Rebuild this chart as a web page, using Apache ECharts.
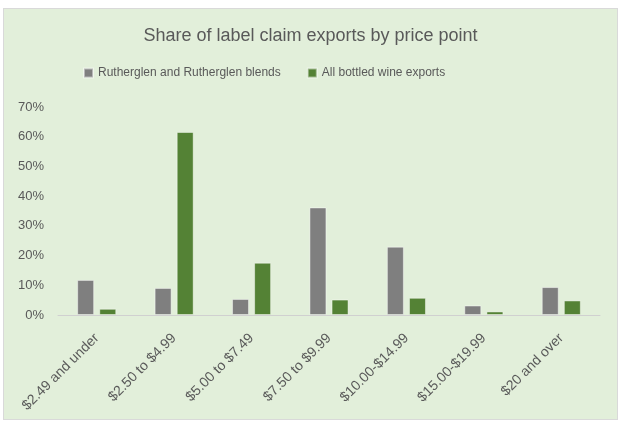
<!DOCTYPE html>
<html>
<head>
<meta charset="utf-8">
<script src="https://cdn.jsdelivr.net/npm/echarts@6/dist/echarts.min.js"></script>
<style>
  html, body { margin: 0; padding: 0; background: #ffffff; }
  #chart { position: absolute; left: 3px; top: 8px; width: 615px; height: 412px;
           background: #e2efda; border: 1px solid #d9d9d9; box-sizing: border-box; }
</style>
</head>
<body>
<div id="chart"></div>
<script>
// price point categories
const categories = ['$2.49 and under', '$2.50 to $4.99', '$5.00 to $7.49', '$7.50 to $9.99',
                    '$10.00-$14.99', '$15.00-$19.99', '$20 and over'];
// shares, in percent
const rutherglen = [11.8, 9.1, 5.4, 36.2, 23.0, 3.2, 9.4];
const allBottled = [2.1, 61.6, 17.6, 5.2, 5.8, 1.2, 4.9];
const seriesNames = ['Rutherglen and Rutherglen blends', 'All bottled wine exports'];

const chart = echarts.init(document.getElementById('chart'));
const font = '"Liberation Sans", Arial, sans-serif';

chart.setOption({
    animation: false,
    title: {
        text: 'Share of label claim exports by price point',
        left: 'center',
        top: 13,
        textStyle: { fontFamily: font, fontSize: 18, fontWeight: 'normal', color: '#595959' }
    },
    legend: {
        top: 53,
        left: 74,
        itemWidth: 9,
        itemHeight: 9,
        itemGap: 26,
        icon: 'rect',
        textStyle: { fontFamily: font, fontSize: 12, color: '#595959' },
        data: seriesNames
    },
    grid: { left: 54, right: 17, top: 98, bottom: 104, containLabel: false },
    xAxis: {
        type: 'category',
        data: categories,
        axisLine: { lineStyle: { color: '#d0d0d0' } },
        axisTick: { show: false },
        axisLabel: { rotate: 45, interval: 0, margin: 21, fontFamily: font, fontSize: 14, color: '#595959' }
    },
    yAxis: {
        type: 'value',
        min: 0,
        max: 70,
        interval: 10,
        axisLine: { show: false },
        axisTick: { show: false },
        splitLine: { show: false },
        axisLabel: { formatter: '{value}%', margin: 14, fontFamily: font, fontSize: 13, color: '#595959' }
    },
    series: [
        {
            name: seriesNames[0],
            type: 'bar',
            data: rutherglen,
            barWidth: 17,
            barGap: '30%',
            itemStyle: { color: '#7f7f7f', borderColor: 'rgba(255,255,255,0.45)', borderWidth: 1 }
        },
        {
            name: seriesNames[1],
            type: 'bar',
            data: allBottled,
            barWidth: 17,
            barGap: '30%',
            itemStyle: { color: '#548235', borderColor: 'rgba(255,255,255,0.45)', borderWidth: 1 }
        }
    ]
});
</script>
</body>
</html>
